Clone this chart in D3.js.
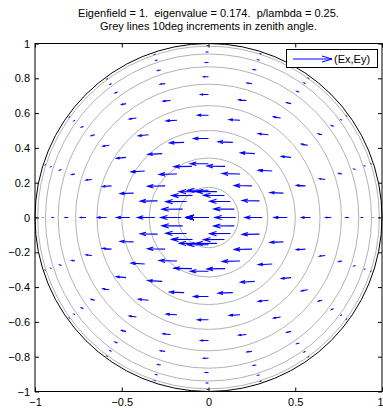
<!DOCTYPE html>
<html>
<head>
<meta charset="utf-8">
<script src="https://cdnjs.cloudflare.com/ajax/libs/d3/7.8.5/d3.min.js"></script>
<style>
  html, body { margin: 0; padding: 0; background: #fff; }
  text { font-family: "Liberation Sans", Arial, Helvetica, sans-serif; }
</style>
</head>
<body>
<svg id="svg" width="383" height="410"></svg>
<script>
// zenith angle of each ring of field samples (deg) and azimuth of samples on a ring
const zenithDeg = [0, 9, 18, 27, 36, 45, 54, 63, 72, 81]
const azimuthDeg = [0, 18, 36, 54, 72, 90, 108, 126, 144, 162, 180, 198, 216, 234, 252, 270, 288, 306, 324, 342]
// grey reference circles, zenith angle (deg)
const greyRingDeg = [10, 20, 30, 40, 50, 60, 70, 80]

// |Ex| and |Ey| for one quadrant (azimuth 0,18,36,54,72,90), one row per ring
const exQuad = [
  [1.000, 1.000, 1.000, 1.000, 1.000, 1.000],
  [0.948, 0.949, 0.952, 0.956, 0.959, 0.960],
  [0.789, 0.793, 0.803, 0.816, 0.826, 0.830],
  [0.606, 0.613, 0.632, 0.654, 0.673, 0.680],
  [0.405, 0.414, 0.438, 0.467, 0.491, 0.500],
  [0.255, 0.265, 0.291, 0.324, 0.350, 0.360],
  [0.135, 0.144, 0.168, 0.197, 0.221, 0.230],
  [0.064, 0.071, 0.090, 0.114, 0.133, 0.140],
  [0.025, 0.030, 0.044, 0.061, 0.075, 0.080],
  [0.006, 0.009, 0.018, 0.028, 0.037, 0.040]
]
const eyQuad = [
  [0, 0.000, 0.000, 0.000, 0.000, 0],
  [0, 0.004, 0.006, 0.006, 0.004, 0],
  [0, 0.012, 0.019, 0.019, 0.012, 0],
  [0, 0.022, 0.035, 0.035, 0.022, 0],
  [0, 0.028, 0.045, 0.045, 0.028, 0],
  [0, 0.031, 0.050, 0.050, 0.031, 0],
  [0, 0.028, 0.045, 0.045, 0.028, 0],
  [0, 0.023, 0.036, 0.036, 0.023, 0],
  [0, 0.016, 0.026, 0.026, 0.016, 0],
  [0, 0.010, 0.016, 0.016, 0.010, 0]
]

const xTicks = [-1, -0.5, 0, 0.5, 1]
const yTicks = [-1, -0.8, -0.6, -0.4, -0.2, 0, 0.2, 0.4, 0.6, 0.8, 1]
const titleLines = [
  "Eigenfield = 1.  eigenvalue = 0.174.  p/lambda = 0.25.",
  "Grey lines 10deg increments in zenith angle."
]
const legendLabel = "(Ex,Ey)"

const plotL = 35, plotR = 382, plotT = 43.5, plotB = 391.5
const quiverScale = 0.126   // data units of arrow per unit field
const headLen = 0.33, headWid = 0.3

const svg = d3.select("#svg")
const x = d3.scaleLinear().domain([-1, 1]).range([plotL, plotR])
const y = d3.scaleLinear().domain([-1, 1]).range([plotB, plotT])
const rad = Math.PI / 180

// build quiver samples, mirroring the quadrant table round the circle
const arrows = []
zenithDeg.forEach((th, i) => {
  azimuthDeg.forEach((ph, k) => {
    const j = k <= 5 ? k : k <= 10 ? 10 - k : k <= 15 ? k - 10 : 20 - k
    const sgn = (k % 10 > 0 && k % 10 < 5) ? 1 : -1
    arrows.push({
      x: Math.sin(th * rad) * Math.cos(ph * rad),
      y: Math.sin(th * rad) * Math.sin(ph * rad),
      u: -exQuad[i][j] * quiverScale,
      v: sgn * eyQuad[i][j] * quiverScale
    })
  })
})

// grey zenith circles
svg.append("g").selectAll("ellipse")
  .data(greyRingDeg)
  .enter().append("ellipse")
  .attr("cx", x(0)).attr("cy", y(0))
  .attr("rx", d => x(Math.sin(d * rad)) - x(0))
  .attr("ry", d => y(0) - y(Math.sin(d * rad)))
  .attr("fill", "none")
  .attr("stroke", "#b3b3b3")
  .attr("stroke-width", 1)

// unit circle
svg.append("ellipse")
  .attr("cx", x(0)).attr("cy", y(0))
  .attr("rx", x(1) - x(0)).attr("ry", y(0) - y(1))
  .attr("fill", "none")
  .attr("stroke", "#000")
  .attr("stroke-width", 1)

function arrowPath(a) {
  const tx = a.x + a.u, ty = a.y + a.v
  const h1x = tx - headLen * (a.u + headWid * a.v), h1y = ty - headLen * (a.v - headWid * a.u)
  const h2x = tx - headLen * (a.u - headWid * a.v), h2y = ty - headLen * (a.v + headWid * a.u)
  return "M" + x(a.x) + "," + y(a.y) + "L" + x(tx) + "," + y(ty) +
    "M" + x(h1x) + "," + y(h1y) + "L" + x(tx) + "," + y(ty) + "L" + x(h2x) + "," + y(h2y)
}

svg.append("g").selectAll("path")
  .data(arrows)
  .enter().append("path")
  .attr("d", arrowPath)
  .attr("fill", "none")
  .attr("stroke", "#0000ff")
  .attr("stroke-width", 1.1)

// axes, ticks pointing inward
const fmt = d => d3.format("~g")(d)
const xAxisG = svg.append("g").attr("transform", "translate(0," + plotB + ")")
  .call(d3.axisBottom(x).tickValues(xTicks).tickSize(-4).tickSizeOuter(0).tickPadding(7).tickFormat(fmt))
svg.append("g").attr("transform", "translate(0," + plotT + ")")
  .call(d3.axisTop(x).tickValues(xTicks).tickSize(-4).tickSizeOuter(0).tickFormat(""))
svg.append("g").attr("transform", "translate(" + plotL + ",0)")
  .call(d3.axisLeft(y).tickValues(yTicks).tickSize(-4).tickSizeOuter(0).tickPadding(5).tickFormat(fmt))
svg.append("g").attr("transform", "translate(" + plotR + ",0)")
  .call(d3.axisRight(y).tickValues(yTicks).tickSize(-4).tickSizeOuter(0).tickFormat(""))
svg.selectAll(".domain").remove()
svg.selectAll(".tick line").attr("stroke", "#000")
svg.selectAll(".tick text").attr("font-size", 11).attr("fill", "#000")
  .style("font-family", "'Liberation Sans', Arial, sans-serif")
// last x label sits at the window edge; keep it inside
xAxisG.selectAll(".tick text").filter(d => d === 1)
  .attr("text-anchor", "end").attr("dx", 1)

svg.append("rect")
  .attr("x", plotL).attr("y", plotT)
  .attr("width", plotR - plotL).attr("height", plotB - plotT)
  .attr("fill", "none").attr("stroke", "#000").attr("stroke-width", 1)

// title
svg.append("g").selectAll("text")
  .data(titleLines)
  .enter().append("text")
  .attr("x", (plotL + plotR) / 2)
  .attr("y", (d, i) => 17 + i * 13)
  .attr("text-anchor", "middle")
  .attr("font-size", 11)
  .style("white-space", "pre")
  .text(d => d)

// legend
const lg = svg.append("g")
lg.append("rect")
  .attr("x", 286.5).attr("y", 49.5).attr("width", 91).attr("height", 18)
  .attr("fill", "#fff").attr("stroke", "#000").attr("stroke-width", 1)
lg.append("path")
  .attr("d", "M293,59L332,59M322,56L332,59L322,62")
  .attr("fill", "none").attr("stroke", "#0000ff").attr("stroke-width", 1)
lg.append("text")
  .attr("x", 334).attr("y", 63)
  .attr("font-size", 11)
  .text(legendLabel)
</script>
</body>
</html>
